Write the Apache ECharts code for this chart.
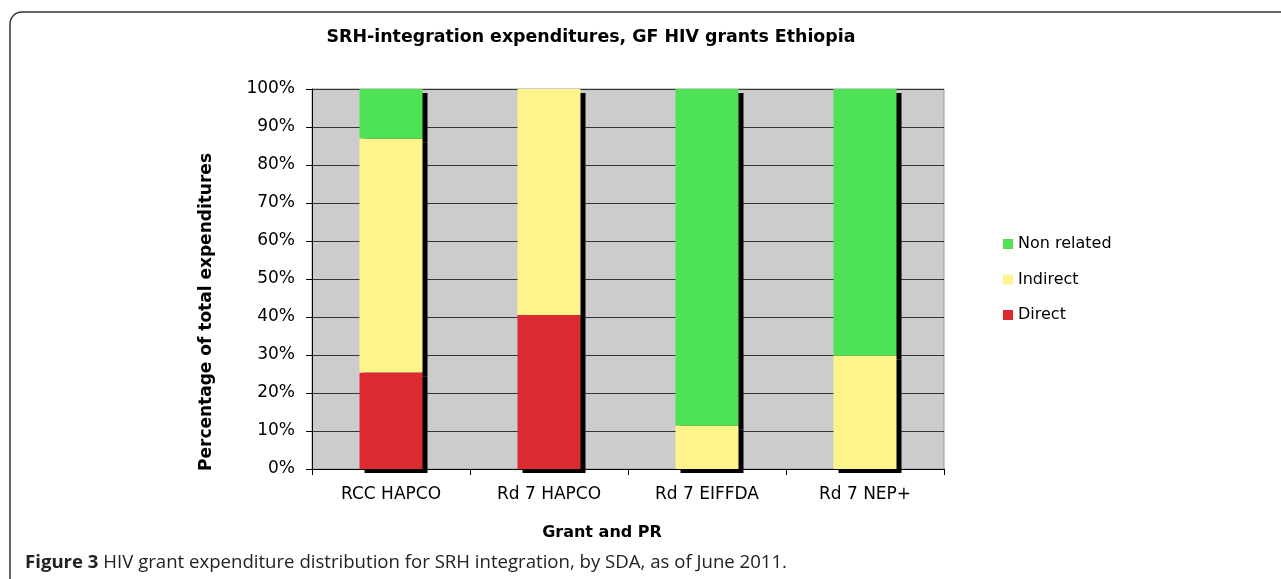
<!DOCTYPE html>
<html>
<head>
<meta charset="utf-8">
<script src="https://cdn.jsdelivr.net/npm/echarts@6/dist/echarts.min.js"></script>
<style>html,body{margin:0;padding:0;background:#fff;}#c{width:1281px;height:579px;}</style>
</head>
<body>
<div id="c"></div>
<script>
const categories = ['RCC HAPCO', 'Rd 7 HAPCO', 'Rd 7 EIFFDA', 'Rd 7 NEP+'];
const direct = [25.3, 40.5, 0, 0];
const indirect = [61.6, 59.5, 11.4, 29.8];
const nonRelated = [13.1, 0, 88.6, 70.2];
const yTicks = [0, 10, 20, 30, 40, 50, 60, 70, 80, 90, 100];

const chart = echarts.init(document.getElementById('c'), null, {renderer: 'canvas'});
const font = 'DejaVu Sans';
const barStyle = (c) => ({color: c, shadowColor: '#000', shadowOffsetX: 5, shadowOffsetY: 4, shadowBlur: 0});
chart.setOption({
  animation: false,
  backgroundColor: '#fff',
  textStyle: {fontFamily: font},
  title: {
    text: 'SRH-integration expenditures, GF HIV grants Ethiopia',
    left: 586, top: 24, textAlign: 'center',
    textStyle: {fontFamily: font, fontWeight: 'bold', fontSize: 17.4, color: '#000'}
  },
  legend: {
    orient: 'vertical', left: 998, top: 231, itemGap: 19.5,
    itemWidth: 10, itemHeight: 10, icon: 'rect',
    itemStyle: {shadowColor: 'rgba(0,0,0,0)', shadowOffsetX: 0, shadowOffsetY: 0},
    textStyle: {fontFamily: font, fontSize: 16, lineHeight: 16, color: '#000', padding: [0, 0, 0, 0]},
    data: ['Non related', 'Indirect', 'Direct']
  },
  grid: {left: 312, right: 337, top: 89, bottom: 110, show: true, backgroundColor: '#cccccc', borderColor: '#9a9a9a', borderWidth: 1},
  xAxis: {
    type: 'category', data: categories,
    axisLine: {lineStyle: {color: '#000', width: 1}},
    axisTick: {show: true, alignWithLabel: false, length: 6, lineStyle: {color: '#000'}},
    axisLabel: {fontFamily: font, fontSize: 17, color: '#000', margin: 17}
  },
  yAxis: {
    type: 'value', min: 0, max: 100, interval: 10,
    axisLine: {show: true, lineStyle: {color: '#000'}},
    axisTick: {show: true, inside: false, length: 6, lineStyle: {color: '#000'}},
    axisLabel: {fontFamily: font, fontSize: 17, color: '#000', margin: 17, formatter: (v) => yTicks.includes(v) ? v + '%' : ''},
    splitLine: {show: true, lineStyle: {color: '#333', width: 1}}
  },
  graphic: [
    {type: 'rect', shape: {x: 10, y: 12, width: 1400, height: 700, r: 12}, style: {fill: 'none', stroke: '#333', lineWidth: 1.5}, silent: true, z: -1},
    {type: 'text', x: 207, y: 312, rotation: Math.PI / 2, style: {text: 'Percentage of total expenditures', font: 'bold 17px "DejaVu Sans"', fill: '#000', align: 'center', verticalAlign: 'middle'}},
    {type: 'text', x: 602, y: 533, style: {text: 'Grant and PR', font: 'bold 16px "DejaVu Sans"', fill: '#000', align: 'center', verticalAlign: 'middle'}},
    {type: 'text', x: 25, y: 563, style: {text: '{b|Figure 3} HIV grant expenditure distribution for SRH integration, by SDA, as of June 2011.', font: '18.6px "Open Sans"', fill: '#222', verticalAlign: 'middle', rich: {b: {fontWeight: 'bold', fontFamily: 'Open Sans', fontSize: 18.6, fill: '#222'}}}}
  ],
  series: [
    {name: 'Direct', type: 'bar', stack: 't', z: 4, data: direct, barWidth: 63, itemStyle: barStyle('#dc2b30')},
    {name: 'Indirect', type: 'bar', stack: 't', z: 3, data: indirect, barWidth: 63, itemStyle: barStyle('#fff38c')},
    {name: 'Non related', type: 'bar', stack: 't', z: 2, data: nonRelated, barWidth: 63, itemStyle: barStyle('#4ee356')}
  ]
});
</script>
</body>
</html>
